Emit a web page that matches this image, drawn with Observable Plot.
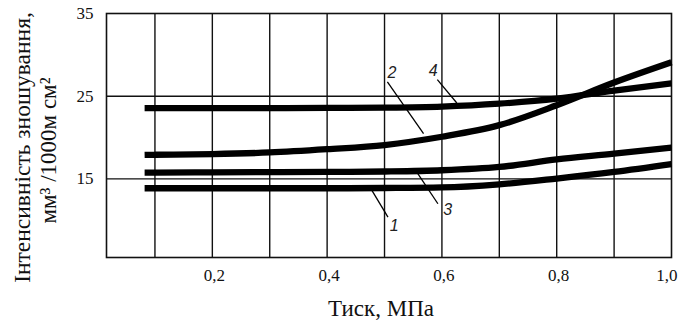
<!DOCTYPE html>
<html><head><meta charset="utf-8">
<script src="https://cdn.jsdelivr.net/npm/d3@7"></script>
<script src="https://cdn.jsdelivr.net/npm/@observablehq/plot@0.6"></script>
<style>body{margin:0;background:#fff}</style>
</head><body><div id="chart"></div>
<script>
// Data
const pressure = [0.082, 0.1, 0.2, 0.3, 0.4, 0.5, 0.6, 0.7, 0.8, 0.9, 1.0];
const curve1 = [13.87, 13.87, 13.87, 13.87, 13.87, 13.9, 13.97, 14.35, 15.05, 15.85, 16.8];
const curve2 = [17.9, 17.92, 18.0, 18.2, 18.6, 19.1, 20.1, 21.5, 23.9, 26.65, 29.1];
const curve3 = [15.76, 15.76, 15.8, 15.82, 15.85, 15.9, 16.05, 16.45, 17.35, 18.05, 18.8];
const curve4 = [23.57, 23.57, 23.57, 23.57, 23.58, 23.62, 23.75, 24.1, 24.7, 25.67, 26.55];
const curveNames = ["1", "2", "3", "4"];

const xTicks = [0.2, 0.4, 0.6, 0.8];
const xTicksEnd = [1.0];
const yTicks = [15, 25, 35];
const xGrid = [0.1, 0.2, 0.3, 0.4, 0.5, 0.6, 0.7, 0.8, 0.9];
const yGrid = [15, 25];

// curve number labels and leader lines (order: 1, 2, 3, 4)
const labelX = [0.517, 0.513, 0.610, 0.585];
const labelY = [9.38, 27.81, 11.2, 28.01];
const leaderX1 = [0.478, 0.505, 0.558, 0.592];
const leaderY1 = [13.61, 26.72, 15.64, 27.0];
const leaderX2 = [0.506, 0.568, 0.593, 0.626];
const leaderY2 = [10.38, 20.47, 12.0, 24.18];

const xLabel = "Тиск, МПа";
const yLabel1 = "Інтенсивність зношування,";
const yLabel2 = "мм³ /1000м см²";

const allCurves = [curve1, curve2, curve3, curve4];
const rows = allCurves.flatMap((vals, i) => vals.map((v, j) => ({x: pressure[j], y: v, s: curveNames[i]})));
const labels = curveNames.map((n, i) => ({n, x: labelX[i], y: labelY[i], x1: leaderX1[i], y1: leaderY1[i], x2: leaderX2[i], y2: leaderY2[i]}));
const fmt = d => d.toFixed(1).replace(".", ",");

const chart = Plot.plot({
  width: 678, height: 326,
  marginLeft: 106, marginRight: 7, marginTop: 13, marginBottom: 69,
  x: {domain: [0.0156, 1.0]},
  y: {domain: [5.5, 35]},
  style: {fontFamily: "Liberation Serif", background: "white", color: "black"},
  marks: [
    Plot.ruleX(xGrid, {stroke: "#111", strokeWidth: 1.4}),
    Plot.ruleY(yGrid, {stroke: "#111", strokeWidth: 1.4}),
    Plot.frame({stroke: "#111", strokeWidth: 1.6}),
    Plot.line(rows, {x: "x", y: "y", z: "s", stroke: "black", strokeWidth: 6.3, strokeLinecap: "butt", curve: "monotone-x"}),
    Plot.link(labels, {x1: "x1", y1: "y1", x2: "x2", y2: "y2", stroke: "black", strokeWidth: 1.3}),
    Plot.text(labels, {x: "x", y: "y", text: "n", fontFamily: "Liberation Sans", fontStyle: "italic", fontSize: 16, fill: "#222"}),
    Plot.axisX(xTicks, {tickSize: 0, tickPadding: 11, tickFormat: fmt, fontSize: 17, label: null, fill: "#111", dx: 2}),
    Plot.axisX(xTicksEnd, {tickSize: 0, tickPadding: 11, tickFormat: fmt, fontSize: 17, label: null, fill: "#111", textAnchor: "end", dx: 6}),
    Plot.axisY(yTicks, {tickSize: 0, tickPadding: 13, fontSize: 17, label: null, fill: "#111"}),
    Plot.text([xLabel], {frameAnchor: "bottom", dx: -8, dy: 58, fontSize: 23, fill: "#111"}),
    Plot.text([yLabel1], {frameAnchor: "left", textAnchor: "middle", rotate: -90, dx: -84, dy: 12, fontSize: 23.5, fill: "#111"}),
    Plot.text([yLabel2], {frameAnchor: "left", textAnchor: "middle", rotate: -90, dx: -58, dy: 15, fontSize: 23, fill: "#111"})
  ]
});
document.getElementById("chart").appendChild(chart);
</script>
</body></html>
